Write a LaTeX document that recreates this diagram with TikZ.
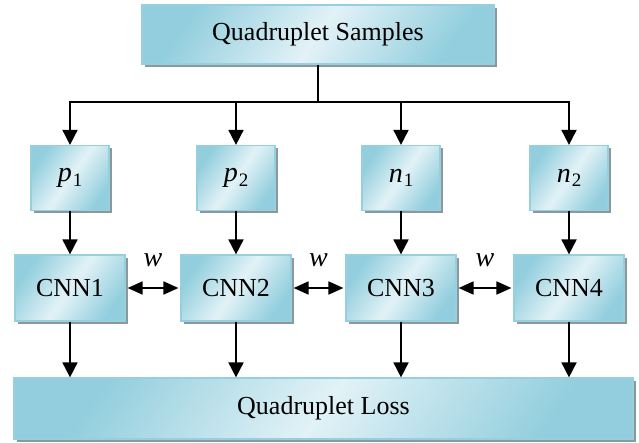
\documentclass[tikz,border=0pt]{standalone}
\usepackage{fontspec}
\setmainfont{Liberation Serif}
\usetikzlibrary{arrows.meta}
\usetikzlibrary{shadows}
\definecolor{boxlight}{RGB}{226,242,247}
\definecolor{boxdark}{RGB}{146,206,221}
\definecolor{boxedge}{RGB}{150,208,222}
\definecolor{shadowgray}{RGB}{140,152,156}
\newcommand{\subtxt}[2]{\textit{#1}\kern1pt\raisebox{-0.35ex}{\fontsize{19}{19}\selectfont #2}}

\begin{document}
\begin{tikzpicture}[x=1pt, y=-1pt,
        box/.style={draw=boxedge, line width=1.2pt,
            top color=boxdark, bottom color=boxdark, middle color=boxlight,
            shading angle=55,
            drop shadow={shadow xshift=3pt, shadow yshift=-3pt, fill=shadowgray, opacity=1},
            inner sep=0pt, font=\fontsize{26}{30}\selectfont},
        smallbox/.style={box, minimum width=78pt, minimum height=65pt, font=\fontsize{28}{32}\selectfont},
        cnnbox/.style={box, minimum width=110pt, minimum height=66pt},
        arr/.style={line width=1.8pt, -{Triangle[width=15pt,length=15pt]}},
        darr/.style={line width=1.8pt, {Triangle[width=13pt,length=15pt]}-{Triangle[width=13pt,length=15pt]},
            shorten <=2pt, shorten >=2pt}]
        \useasboundingbox (0,0) rectangle (639,443);

        % input and output boxes
        \node[box, minimum width=352pt, minimum height=59pt] (qs) at (318,34.5) {Quadruplet Samples};
        \node[box, minimum width=619pt, minimum height=61pt] (loss) at (323.5,408.5) {Quadruplet Loss};

        % samples
        \node[smallbox] (p1) at (70,178) {\subtxt{p}{1}};
        \node[smallbox] (p2) at (236,178) {\subtxt{p}{2}};
        \node[smallbox] (n1) at (401,178) {\subtxt{n}{1}};
        \node[smallbox] (n2) at (569,178) {\subtxt{n}{2}};

        % networks
        \node[cnnbox] (c1) at (70,288) {CNN1};
        \node[cnnbox] (c2) at (236,288) {CNN2};
        \node[cnnbox] (c3) at (401,288) {CNN3};
        \node[cnnbox] (c4) at (569,288) {CNN4};

        \coordinate (bus) at (318,102);
        \draw[line width=1.8pt] (qs.south) -- (bus);
        \foreach \s in {p1,p2,n1,n2}
            \draw[arr] (bus) -| (\s.north);

        \draw[arr] (p1.south) -- (c1.north);
        \draw[arr] (p2.south) -- (c2.north);
        \draw[arr] (n1.south) -- (c3.north);
        \draw[arr] (n2.south) -- (c4.north);

        \foreach \c in {c1,c2,c3,c4}
            \draw[arr] (\c.south) -- (\c.south |- loss.north);

        % shared weights
        \draw[darr] (c1.east) -- node[above=20pt, inner sep=0pt, font=\fontsize{28}{30}\selectfont] {\textit{w}} (c2.west);
        \draw[darr] (c2.east) -- node[above=20pt, inner sep=0pt, font=\fontsize{28}{30}\selectfont] {\textit{w}} (c3.west);
        \draw[darr] (c3.east) -- node[above=20pt, inner sep=0pt, font=\fontsize{28}{30}\selectfont] {\textit{w}} (c4.west);
\end{tikzpicture}
\end{document}
